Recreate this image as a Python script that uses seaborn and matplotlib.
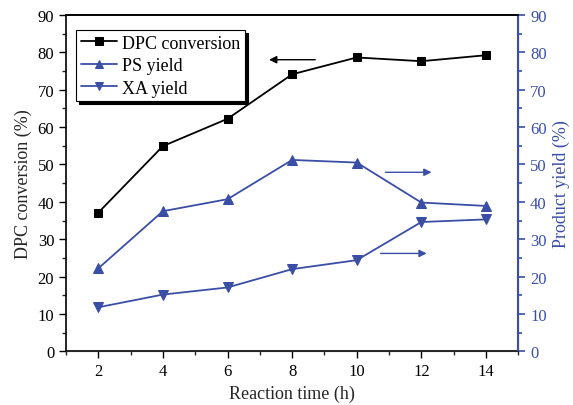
import numpy as np
import pandas as pd
import seaborn as sns
import matplotlib.pyplot as plt
from matplotlib.ticker import MultipleLocator

# data
time_h = [2, 4, 6, 8, 10, 12, 14]
dpc_conversion = [37.1, 54.9, 62.2, 74.1, 78.6, 77.6, 79.2]
ps_yield = [22.2, 37.5, 40.7, 51.2, 50.5, 39.8, 38.9]
xa_yield = [11.8, 15.2, 17.1, 22.0, 24.4, 34.6, 35.3]

df = pd.DataFrame({'time': time_h, 'DPC': dpc_conversion, 'PS': ps_yield, 'XA': xa_yield})

sns.set_style('ticks')
plt.rcParams['font.family'] = ['Liberation Serif', 'DejaVu Serif']

blue = '#3a4ea6'

fig = plt.figure(figsize=(5.73, 4.06), dpi=100)
ax = fig.add_axes([0.1152, 0.132, 0.7893, 0.829])
ax2 = ax.twinx()

sns.lineplot(data=df, x='time', y='DPC', ax=ax, color='black', marker='s',
             markersize=6, markeredgecolor='black', linewidth=1.3, label='DPC conversion', legend=False)
sns.lineplot(data=df, x='time', y='PS', ax=ax2, color=blue, marker='^',
             markersize=7, markeredgecolor=blue, linewidth=1.3, label='PS yield', legend=False)
sns.lineplot(data=df, x='time', y='XA', ax=ax2, color=blue, marker='v',
             markersize=7, markeredgecolor=blue, linewidth=1.3, label='XA yield', legend=False)

for a in (ax, ax2):
    a.set_ylim(0, 90)
    a.yaxis.set_major_locator(MultipleLocator(10))
    a.yaxis.set_minor_locator(MultipleLocator(5))
ax.set_xlim(1, 15)
ax.xaxis.set_major_locator(MultipleLocator(2))
ax.xaxis.set_minor_locator(MultipleLocator(1))

ax.set_xlabel('Reaction time (h)', fontsize=13)
ax.set_ylabel('DPC conversion (%)', fontsize=13)
ax2.set_ylabel('Product yield (%)', fontsize=13, color=blue)

ax.tick_params(axis='both', which='major', direction='out', length=5, width=1, labelsize=12, colors='black')
ax.tick_params(axis='both', which='minor', direction='out', length=3, width=1)
ax2.tick_params(axis='y', which='major', direction='out', length=5, width=1.2, labelsize=12, colors=blue)
ax2.tick_params(axis='y', which='minor', direction='out', length=3, width=1.2, colors=blue)

for side in ['left', 'bottom', 'top']:
    ax.spines[side].set_color('black')
    ax.spines[side].set_linewidth(1.2)
ax2.spines['right'].set_color(blue)
ax2.spines['right'].set_linewidth(1.5)
ax2.spines['left'].set_visible(False)
ax2.spines['top'].set_color('black')
ax2.spines['top'].set_linewidth(1.2)

# arrows pointing to the matching axis
arrow = dict(arrowstyle='-|>', color='black', lw=1.0, mutation_scale=11)
ax.annotate('', xy=(7.2, 78.0), xytext=(8.8, 78.0), arrowprops=arrow)
arrow_b = dict(arrowstyle='-|>', color=blue, lw=1.0, mutation_scale=11)
ax2.annotate('', xy=(12.4, 47.9), xytext=(10.8, 47.9), arrowprops=arrow_b)
ax2.annotate('', xy=(12.25, 26.2), xytext=(10.65, 26.2), arrowprops=arrow_b)

h1, l1 = ax.get_legend_handles_labels()
h2, l2 = ax2.get_legend_handles_labels()
leg = ax2.legend(h1 + h2, l1 + l2, loc='upper left', bbox_to_anchor=(0.015, 0.965),
                 fontsize=13, frameon=True, fancybox=False, edgecolor='black',
                 shadow={'color': 'black', 'alpha': 1}, handlelength=2.0, markerscale=0.9,
                 borderpad=0.25, labelspacing=0.3, handletextpad=0.3, borderaxespad=0.2)
leg.get_frame().set_linewidth(0.8)
for t in leg.get_texts():
    t.set_color('black')

fig.savefig('out.png', dpi=100)
